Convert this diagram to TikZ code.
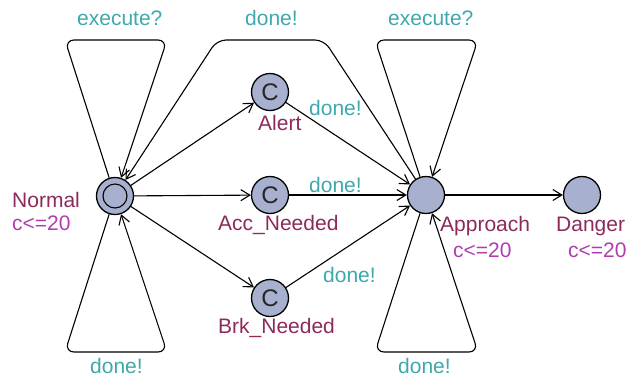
\documentclass[tikz,border=0pt]{standalone}
\usepackage{fontspec}
\setmainfont{Liberation Sans}
\usetikzlibrary{arrows.meta}
\definecolor{locfill}{HTML}{A8B0CF}
\definecolor{locname}{HTML}{8C2A5C}
\definecolor{invcol}{HTML}{B03CB0}
\definecolor{synccol}{HTML}{3FA8AD}
\begin{document}
\begin{tikzpicture}[x=1pt,y=-1pt,
  every node/.style={font=\fontsize{21}{24}\selectfont},
  loc/.style={circle, draw, fill=locfill, line width=1.3pt, minimum size=37pt, inner sep=0pt},
  committed/.style={loc, text=black!85, font=\fontsize{24}{24}\selectfont},
  trans/.style={line width=1.1pt, rounded corners=9pt,
    -{Straight Barb[length=9pt,width=11pt,line width=1.1pt]}},
  lname/.style={anchor=base west, inner sep=0pt, text=locname},
  inv/.style={anchor=base west, inner sep=0pt, text=invcol},
  sync/.style={anchor=base west, inner sep=0pt, text=synccol}]
\useasboundingbox (0,0) rectangle (626,381);

% locations
\node[loc] (normal) at (115,196) {};
\node[circle, draw, line width=1.1pt, minimum size=24pt, inner sep=0pt] (normalinit) at (normal.center) {};
\node[committed] (alert) at (270,92) {C};
\node[committed] (acc) at (270,195) {C};
\node[committed] (brk) at (270,298) {C};
\node[loc] (approach) at (426,195) {};
\node[loc] (danger) at (582,195) {};

% nails of the bent edges
\coordinate (nTL) at (65,40);
\coordinate (nTR) at (167,40);
\coordinate (nBL) at (65,352);
\coordinate (nBR) at (167,352);
\coordinate (aTL) at (375,40);
\coordinate (aTR) at (478,40);
\coordinate (aBL) at (375,352);
\coordinate (aBR) at (478,352);
\coordinate (back1) at (324,40);
\coordinate (back2) at (217,40);

% edges
\draw[trans] (normal) -- (alert);
\draw[trans] (normal) -- (acc);
\draw[trans] (normal) -- (brk);
\draw[trans] (alert) -- (approach);
\draw[trans] (acc) -- (approach);
\draw[trans] (brk) -- (approach);
\draw[trans] (approach) -- (danger);
\draw[trans] (approach) -- (back1) -- (back2) -- (normal);
\draw[trans] (normal) -- (nTL) -- (nTR) -- (normal);
\draw[trans] (normal) -- (nBL) -- (nBR) -- (normal);
\draw[trans] (approach) -- (aTL) -- (aTR) -- (approach);
\draw[trans] (approach) -- (aBL) -- (aBR) -- (approach);

% location names and invariants
\node[lname] (tNormal) at (12,207) {Normal};
\node[inv] (iNormal) at (12,230) {c<=20};
\node[lname] (tAlert) at (258,130) {Alert};
\node[lname] (tAcc) at (218,230) {Acc\_Needed};
\node[lname] (tBrk) at (218,333) {Brk\_Needed};
\node[lname] (tApproach) at (440,231) {Approach};
\node[inv] (iApproach) at (453,257) {c<=20};
\node[lname] (tDanger) at (556,231) {Danger};
\node[inv] (iDanger) at (568,257) {c<=20};

% synchronisations
\node[sync] (s1) at (77,25) {execute?};
\node[sync] (s2) at (90,373) {done!};
\node[sync] (s3) at (245,25) {done!};
\node[sync] (s4) at (388,25) {execute?};
\node[sync] (s5) at (398,373) {done!};
\node[sync] (s6) at (309,115) {done!};
\node[sync] (s7) at (309,192) {done!};
\node[sync] (s8) at (323,282) {done!};
\end{tikzpicture}
\end{document}
